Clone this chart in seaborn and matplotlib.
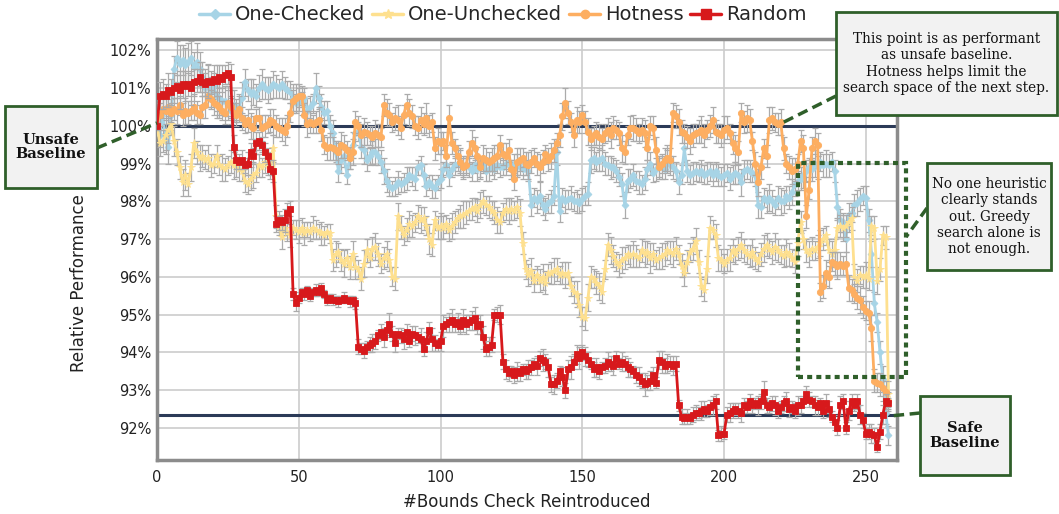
import numpy as np
import matplotlib.pyplot as plt
import seaborn as sns
from matplotlib.patches import Rectangle
from matplotlib.lines import Line2D
from matplotlib.ticker import PercentFormatter

# style
sns.set_theme(style="whitegrid")
plt.rcParams['font.family'] = ['DejaVu Sans']

# ---- data (relative performance in %, one point per reintroduced bounds check) ----
steps = list(range(259))

one_checked = [
    100.0, 99.75, 100.35, 99.6, 99.45, 100.3, 101.5, 101.8, 101.65, 101.75, 101.6,
    101.7, 101.8, 101.55, 101.7, 101.5, 101.3, 101.0, 101.15, 100.9, 101.05,
    100.8, 100.75, 100.65, 100.65, 100.6, 100.4, 100.55, 100.4, 100.5, 100.75,
    101.15, 100.95, 100.85, 100.9, 100.8, 101.0, 101.1, 101.0, 100.95, 101.0,
    101.1, 101.05, 101.0, 101.1, 101.0, 100.95, 100.9, 100.75, 100.6, 100.7,
    100.6, 100.75, 100.4, 100.5, 100.6, 101.0, 100.75, 100.5, 100.35, 100.4,
    100.0, 99.8, 99.3, 98.8, 99.1, 99.2, 98.7, 99.15, 99.5, 99.8,
    99.85, 99.45, 99.35, 99.1, 99.2, 99.3, 99.3, 99.2, 99.05, 98.8,
    98.55, 98.4, 98.35, 98.4, 98.5, 98.45, 98.5, 98.6, 98.7, 98.65,
    98.6, 98.9, 98.95, 98.7, 98.4, 98.5, 98.4, 98.35, 98.5, 98.6,
    98.85, 98.95, 98.7, 98.85, 98.95, 99.0, 99.05, 98.9, 98.95, 98.9,
    98.8, 98.95, 98.85, 98.9, 98.95, 98.8, 98.85, 98.9, 98.85, 98.95,
    98.9, 98.9, 99.0, 99.05, 98.9, 99.0, 98.95, 98.9, 98.85, 98.9,
    98.8, 97.9, 98.1, 98.0, 98.15, 97.9, 97.8, 97.95, 98.0, 98.15,
    99.3, 97.75, 98.1, 98.0, 98.05, 98.1, 98.0, 98.0, 97.95, 98.05,
    98.15, 98.2, 99.1, 99.15, 99.05, 99.1, 99.15, 99.0, 98.95, 98.9,
    98.9, 98.8, 98.65, 98.45, 97.9, 98.55, 98.6, 98.7, 98.55, 98.5,
    98.45, 98.6, 98.85, 99.0, 98.75, 98.85, 98.9, 98.9, 98.85, 99.05,
    98.95, 98.9, 98.8, 98.5, 98.7, 99.4, 98.8, 98.7, 98.75, 98.8,
    98.75, 98.8, 98.7, 98.75, 98.8, 98.7, 98.8, 98.7, 98.65, 98.7,
    98.75, 98.6, 98.7, 98.75, 98.7, 98.5, 98.8, 98.85, 98.8, 98.75,
    98.7, 97.9, 97.85, 98.1, 98.0, 98.1, 98.0, 97.9, 98.1, 98.0,
    98.0, 98.15, 98.1, 98.25, 98.45, 98.55, 98.6, 98.7, 98.8, 98.9,
    98.85, 99.0, 98.9, 99.05, 98.95, 99.0, 98.95, 99.05, 98.8, 97.85,
    97.5, 97.45, 97.0, 97.65, 97.7, 97.9, 97.95, 98.05, 98.15, 98.1,
    97.5, 96.6, 95.3, 94.8, 94.0, 93.3, 92.4, 91.8,
]

one_unchecked = [
    100.0, 99.55, 99.6, 99.75, 99.9, 100.05, 99.6, 99.3, 98.9, 98.5, 98.7,
    98.45, 98.9, 99.55, 99.3, 99.15, 99.2, 99.1, 99.15, 98.95, 99.0,
    99.2, 98.95, 98.9, 98.85, 98.95, 99.05, 98.95, 98.9, 98.85, 98.8,
    98.55, 98.45, 98.6, 98.7, 98.75, 98.95, 98.9, 99.05, 98.95, 99.0,
    99.4, 97.6, 97.35, 97.05, 97.3, 97.2, 97.1, 97.3, 97.25, 97.2,
    97.3, 97.15, 97.25, 97.2, 97.3, 97.25, 97.2, 97.15, 97.1, 97.2,
    97.15, 96.45, 96.6, 96.65, 96.45, 96.35, 96.5, 96.25, 96.6, 96.25,
    96.2, 95.95, 96.35, 96.7, 96.5, 96.75, 96.8, 96.6, 96.35, 96.5,
    96.6, 96.45, 96.0, 95.95, 97.6, 97.3, 97.1, 97.25, 97.4, 97.35,
    97.45, 97.6, 97.5, 97.55, 97.35, 97.0, 96.85, 97.5, 97.3, 97.35,
    97.3, 97.4, 97.25, 97.35, 97.45, 97.55, 97.6, 97.65, 97.7, 97.75,
    97.8, 97.85, 97.75, 97.9, 98.0, 97.9, 97.85, 97.75, 97.7, 97.5,
    97.45, 97.7, 97.8, 97.75, 97.8, 97.75, 97.85, 97.7, 96.9, 96.2,
    96.05, 96.15, 95.9, 96.05, 95.9, 96.0, 95.85, 96.1, 96.1, 96.15,
    96.2, 96.05, 96.1, 96.05, 96.1, 95.75, 95.6, 95.55, 95.25, 94.95,
    94.9, 95.45, 96.0, 95.95, 95.85, 95.75, 95.6, 96.2, 96.85, 96.7,
    96.55, 96.4, 96.3, 96.45, 96.5, 96.6, 96.55, 96.6, 96.55, 96.5,
    96.7, 96.6, 96.65, 96.5, 96.6, 96.45, 96.5, 96.55, 96.6, 96.7,
    96.65, 96.6, 96.75, 96.6, 96.3, 96.1, 96.4, 96.65, 96.75, 96.95,
    96.4, 95.75, 95.65, 96.2, 97.3, 97.25, 97.1, 96.5, 96.45, 96.35,
    96.45, 96.5, 96.7, 96.6, 96.75, 96.85, 96.7, 96.6, 96.55, 96.65,
    96.5, 96.4, 96.6, 96.75, 96.85, 96.75, 96.65, 96.8, 96.7, 96.6,
    96.55, 96.65, 96.6, 96.5, 96.4, 96.9, 97.45, 97.0, 96.7, 96.6,
    96.75, 96.7, 96.8, 96.9, 97.0, 97.1, 96.7, 96.6, 96.7, 97.3,
    97.35, 97.3, 97.35, 97.45, 97.55, 96.0, 95.9, 96.05, 96.0, 96.05,
    95.95, 97.35, 97.3, 95.9, 96.2, 97.1, 97.05, 92.9,
]

hotness = [
    100.0, 100.3, 100.45, 100.4, 100.5, 100.35, 100.45, 100.4, 100.55, 100.3, 100.4,
    100.35, 100.4, 100.5, 100.35, 100.3, 100.5, 100.55, 100.8, 100.7, 100.6,
    100.55, 100.5, 100.4, 100.35, 100.6, 100.5, 100.35, 100.3, 100.45, 100.2,
    100.05, 100.15, 100.0, 99.95, 100.2, 100.2, 99.95, 100.0, 100.05, 100.15,
    100.1, 100.0, 99.95, 99.9, 99.85, 100.0, 100.35, 100.65, 100.75, 100.8,
    100.8, 100.3, 100.05, 100.1, 100.05, 100.1, 100.15, 99.9, 99.5, 99.4,
    99.45, 99.4, 99.35, 99.3, 99.5, 99.45, 99.35, 99.15, 99.3, 100.1,
    100.0, 99.75, 99.85, 99.8, 99.75, 99.7, 99.8, 99.75, 99.7, 100.55,
    100.35, 100.3, 100.1, 100.2, 100.15, 99.95, 100.3, 100.55, 100.35, 100.25,
    100.0, 99.95, 100.15, 100.05, 100.2, 100.0, 100.1, 99.4, 99.6, 99.55,
    99.6, 99.2, 100.2, 99.55, 99.4, 99.2, 99.05, 98.9, 98.95, 99.3,
    99.55, 99.4, 99.2, 98.9, 99.15, 99.1, 99.05, 99.1, 99.15, 99.2,
    99.5, 99.25, 99.2, 99.35, 98.85, 98.6, 99.05, 99.1, 99.15, 99.0,
    98.95, 99.05, 99.15, 99.0, 98.9, 99.05, 99.25, 99.1, 99.2, 99.35,
    99.55, 99.75, 100.25, 100.6, 100.35, 100.1, 99.75, 100.15, 100.1, 100.3,
    100.1, 99.85, 99.65, 99.75, 99.8, 99.7, 99.65, 99.8, 99.9, 99.75,
    99.95, 99.9, 99.8, 99.4, 99.3, 99.75, 99.95, 99.95, 99.9, 99.8,
    99.9, 99.8, 99.4, 100.0, 99.95, 99.35, 98.9, 99.0, 99.1, 99.15,
    99.1, 100.35, 100.25, 100.1, 99.85, 99.8, 99.7, 99.6, 99.75, 99.8,
    99.85, 99.9, 99.75, 99.9, 100.0, 100.15, 99.85, 99.8, 99.75, 99.9,
    99.95, 99.8, 99.55, 99.4, 99.3, 100.35, 100.1, 100.2, 100.15, 99.6,
    99.0, 98.5, 98.9, 99.4, 99.2, 100.15, 100.2, 100.1, 100.05, 100.1,
    99.4, 99.0, 98.9, 98.8, 98.85, 99.0, 99.6, 99.4, 97.6, 98.3,
    99.4, 99.6, 99.5, 95.6, 95.75, 96.1, 96.0, 96.4, 96.35, 96.3,
    96.35, 96.3, 96.35, 95.7, 95.65, 95.55, 95.45, 95.4, 95.2, 95.1,
    95.05, 94.65, 93.25, 93.2, 93.15, 93.05, 92.95, 92.7,
]

random_order = [
    100.0, 100.8, 100.85, 100.8, 100.95, 100.9, 101.0, 101.05, 100.95, 101.1, 101.05,
    101.1, 101.0, 101.15, 101.2, 101.3, 101.15, 101.1, 101.2, 101.15, 101.25,
    101.2, 101.3, 101.25, 101.35, 101.4, 101.3, 99.45, 99.1, 99.05, 99.1,
    98.95, 99.0, 99.3, 99.2, 99.55, 99.6, 99.5, 99.3, 99.2, 98.85,
    98.8, 97.4, 97.5, 97.45, 97.5, 97.7, 97.8, 95.55, 95.3, 95.45,
    95.6, 95.55, 95.65, 95.5, 95.6, 95.65, 95.6, 95.7, 95.55, 95.4,
    95.45, 95.4, 95.4, 95.35, 95.4, 95.45, 95.4, 95.35, 95.4, 95.3,
    94.15, 94.1, 94.05, 94.15, 94.2, 94.25, 94.3, 94.45, 94.55, 94.4,
    94.6, 94.75, 94.5, 94.25, 94.5, 94.45, 94.35, 94.55, 94.3, 94.5,
    94.45, 94.4, 94.35, 94.1, 94.3, 94.6, 94.35, 94.25, 94.2, 94.3,
    94.7, 94.75, 94.8, 94.85, 94.75, 94.8, 94.7, 94.85, 94.75, 94.8,
    94.85, 94.9, 94.7, 94.75, 94.4, 94.1, 94.15, 94.2, 95.0, 95.0,
    95.0, 93.75, 93.55, 93.45, 93.5, 93.4, 93.5, 93.45, 93.55, 93.5,
    93.55, 93.6, 93.7, 93.65, 93.85, 93.8, 93.75, 93.6, 93.15, 93.15,
    93.25, 93.5, 93.35, 93.0, 93.55, 93.6, 93.75, 93.95, 93.85, 94.0,
    93.9, 93.8, 93.7, 93.55, 93.6, 93.5, 93.6, 93.65, 93.75, 93.7,
    93.65, 93.85, 93.7, 93.75, 93.7, 93.6, 93.55, 93.5, 93.4, 93.35,
    93.25, 93.15, 93.2, 93.25, 93.4, 93.2, 93.8, 93.75, 93.65, 93.7,
    93.7, 93.65, 93.7, 92.6, 92.3, 92.25, 92.3, 92.25, 92.35, 92.4,
    92.4, 92.45, 92.5, 92.45, 92.55, 92.6, 92.7, 91.8, 91.85, 91.85,
    92.35, 92.4, 92.45, 92.5, 92.45, 92.4, 92.6, 92.55, 92.7, 92.6,
    92.65, 92.6, 92.7, 92.95, 92.6, 92.55, 92.65, 92.6, 92.45, 92.55,
    92.65, 92.7, 92.5, 92.55, 92.45, 92.6, 92.6, 92.7, 92.9, 92.75,
    92.7, 92.6, 92.55, 92.65, 92.45, 92.65, 92.5, 92.3, 92.15, 92.0,
    92.6, 92.7, 92.0, 92.45, 92.7, 92.6, 92.7, 92.35, 92.2, 91.85,
    91.9, 91.85, 91.8, 91.5, 91.9, 92.35, 92.7, 92.65,
]

# error bar half-widths in hundredths of a percent
one_checked_err = [
    10, 30, 40, 35, 45, 40, 35, 45, 50, 40, 45,
    50, 45, 40, 50, 45, 40, 50, 45, 40, 35,
    40, 45, 35, 40, 45, 35, 40, 30, 35, 40,
    35, 30, 40, 35, 30, 35, 40, 30, 35, 30,
    35, 30, 25, 35, 30, 25, 30, 35, 25, 30,
    30, 25, 35, 30, 25, 40, 30, 35, 30, 25,
    30, 35, 25, 30, 35, 30, 25, 30, 35, 30,
    25, 30, 35, 30, 25, 30, 35, 25, 30, 35,
    30, 25, 20, 25, 30, 20, 25, 30, 20, 25,
    30, 20, 25, 30, 25, 20, 30, 25, 20, 25,
    20, 25, 30, 20, 25, 20, 30, 25, 20, 25,
    25, 20, 30, 25, 20, 25, 30, 20, 25, 20,
    25, 20, 30, 25, 20, 25, 30, 20, 25, 20,
    25, 30, 25, 30, 35, 25, 30, 25, 30, 25,
    35, 30, 25, 30, 25, 30, 25, 30, 25, 30,
    25, 30, 35, 30, 25, 30, 35, 30, 25, 30,
    25, 30, 25, 30, 35, 30, 25, 30, 25, 30,
    25, 30, 25, 30, 25, 30, 25, 30, 25, 30,
    25, 30, 25, 30, 25, 35, 30, 25, 30, 25,
    25, 30, 25, 30, 25, 30, 25, 30, 25, 30,
    25, 30, 25, 30, 25, 35, 30, 25, 30, 25,
    30, 35, 30, 25, 30, 35, 30, 25, 30, 35,
    30, 25, 30, 35, 30, 25, 30, 35, 30, 25,
    30, 35, 30, 25, 30, 35, 30, 25, 30, 35,
    30, 25, 35, 30, 25, 30, 35, 30, 25, 30,
    30, 35, 30, 25, 30, 35, 30, 25,
]

one_unchecked_err = [
    10, 35, 30, 40, 35, 30, 40, 35, 30, 35, 40,
    30, 35, 40, 30, 35, 30, 25, 35, 30, 25,
    30, 25, 35, 30, 25, 30, 35, 25, 30, 25,
    30, 25, 30, 35, 25, 30, 25, 30, 25, 30,
    35, 30, 25, 30, 20, 25, 30, 20, 25, 30,
    25, 30, 20, 25, 30, 25, 20, 30, 25, 20,
    25, 30, 35, 25, 30, 35, 25, 30, 35, 30,
    25, 30, 35, 30, 25, 30, 35, 30, 25, 30,
    35, 30, 25, 30, 35, 30, 25, 30, 35, 30,
    25, 30, 35, 30, 25, 40, 30, 25, 30, 35,
    30, 25, 30, 35, 30, 25, 30, 35, 30, 25,
    30, 25, 30, 35, 30, 25, 30, 25, 30, 35,
    30, 25, 30, 35, 30, 25, 30, 35, 30, 25,
    30, 35, 30, 25, 30, 35, 30, 25, 30, 35,
    30, 25, 30, 35, 30, 25, 30, 35, 30, 25,
    30, 35, 30, 25, 30, 35, 30, 25, 30, 35,
    30, 25, 30, 35, 30, 25, 30, 35, 30, 25,
    30, 35, 30, 40, 30, 25, 30, 35, 30, 25,
    30, 35, 30, 25, 30, 35, 30, 25, 30, 35,
    30, 25, 30, 35, 30, 25, 30, 35, 30, 25,
    30, 35, 30, 25, 30, 35, 30, 25, 30, 35,
    30, 25, 30, 35, 30, 25, 30, 35, 30, 25,
    30, 35, 30, 25, 30, 35, 30, 25, 30, 35,
    30, 25, 30, 35, 30, 25, 30, 35, 30, 25,
    30, 35, 30, 25, 30, 35, 30, 25, 30, 35,
    30, 25, 30, 35, 30, 25, 30, 35,
]

hotness_err = [
    10, 30, 25, 35, 30, 25, 30, 35, 25, 30, 35,
    30, 25, 35, 30, 25, 30, 35, 30, 25, 30,
    35, 30, 25, 30, 35, 30, 25, 30, 35, 30,
    25, 30, 35, 30, 25, 30, 35, 30, 25, 30,
    35, 30, 25, 30, 35, 30, 25, 30, 35, 30,
    25, 30, 35, 30, 25, 30, 35, 30, 25, 30,
    35, 30, 25, 30, 35, 30, 25, 30, 35, 30,
    25, 30, 35, 30, 25, 30, 35, 30, 25, 30,
    35, 30, 25, 30, 40, 30, 25, 30, 35, 30,
    25, 30, 35, 30, 40, 30, 25, 30, 35, 30,
    25, 30, 35, 30, 25, 30, 35, 30, 25, 30,
    35, 30, 25, 30, 35, 30, 25, 30, 35, 30,
    25, 30, 35, 30, 25, 30, 35, 30, 25, 30,
    35, 30, 25, 30, 35, 30, 25, 30, 35, 30,
    25, 30, 35, 40, 30, 25, 30, 35, 30, 25,
    30, 35, 30, 25, 30, 35, 30, 25, 30, 35,
    30, 25, 30, 35, 30, 25, 30, 35, 30, 25,
    30, 35, 30, 25, 30, 35, 30, 25, 30, 35,
    30, 25, 30, 35, 30, 25, 30, 35, 30, 25,
    30, 35, 30, 25, 30, 35, 30, 25, 30, 35,
    30, 25, 30, 35, 30, 25, 30, 35, 30, 25,
    30, 35, 30, 25, 30, 35, 30, 25, 30, 35,
    30, 25, 30, 35, 30, 25, 30, 35, 30, 25,
    30, 35, 30, 25, 30, 35, 30, 25, 30, 35,
    30, 25, 30, 35, 30, 25, 30, 35, 30, 25,
    30, 35, 30, 25, 30, 35, 30, 25,
]

random_err = [
    10, 35, 40, 30, 45, 35, 40, 30, 50, 35, 40,
    30, 45, 35, 30, 40, 35, 30, 45, 30, 35,
    40, 30, 35, 25, 30, 35, 30, 25, 20, 25,
    20, 30, 25, 20, 30, 25, 20, 25, 20, 25,
    30, 20, 25, 20, 30, 25, 20, 15, 20, 15,
    10, 15, 10, 15, 10, 15, 10, 15, 10, 15,
    10, 15, 10, 15, 10, 15, 10, 15, 10, 15,
    20, 15, 20, 15, 20, 25, 20, 15, 20, 25,
    20, 30, 20, 25, 15, 20, 25, 20, 15, 20,
    25, 15, 30, 20, 25, 20, 30, 20, 15, 25,
    30, 20, 25, 30, 20, 25, 20, 30, 25, 20,
    25, 30, 20, 25, 30, 20, 25, 20, 15, 20,
    25, 20, 25, 20, 15, 20, 25, 20, 15, 20,
    25, 20, 15, 25, 20, 30, 20, 25, 20, 25,
    20, 15, 25, 20, 25, 30, 20, 25, 30, 20,
    25, 20, 15, 20, 25, 20, 15, 20, 25, 20,
    25, 20, 15, 25, 20, 25, 20, 15, 20, 25,
    20, 30, 20, 25, 20, 15, 25, 30, 20, 25,
    20, 25, 20, 15, 20, 15, 20, 15, 20, 20,
    15, 25, 20, 15, 20, 25, 20, 15, 20, 15,
    20, 25, 20, 15, 20, 25, 20, 15, 20, 20,
    15, 25, 20, 30, 20, 15, 20, 25, 20, 15,
    20, 25, 20, 15, 20, 25, 20, 15, 20, 20,
    15, 25, 20, 15, 20, 25, 20, 15, 20, 20,
    25, 20, 15, 25, 20, 15, 20, 25, 20, 15,
    20, 25, 20, 15, 20, 25, 20, 15,
]

safe_baseline = 92.35
unsafe_baseline = 100.0

# ---- figure ----
W, H = 1059, 514
fig = plt.figure(figsize=(W / 100, H / 100), dpi=100)
ax = fig.add_axes([157 / W, 1 - 460 / H, (897 - 157) / W, (460 - 39) / H])


def fpx(x, y):
    # figure pixel (from top-left) -> figure fraction
    return x / W, 1 - y / H


series = [
    ("One-Checked", one_checked, one_checked_err, "#a7d4e6", "D", 3.5),
    ("One-Unchecked", one_unchecked, one_unchecked_err, "#fee08f", "*", 5.5),
    ("Hotness", hotness, hotness_err, "#fdae61", "o", 4.5),
    ("Random", random_order, random_err, "#d7191c", "s", 5),
]

ax.axhline(unsafe_baseline, color="#2b3a57", lw=2.2, zorder=2)
ax.axhline(safe_baseline, color="#2b3a57", lw=2.2, zorder=2)

handles = []
for i, (name, vals, err, color, marker, ms) in enumerate(series):
    z = 3 + i
    ax.errorbar(steps, vals, yerr=np.array(err) / 100, fmt="none", ecolor="#ababab",
                elinewidth=0.9, capsize=2, capthick=0.9, zorder=z)
    sns.lineplot(x=steps, y=vals, ax=ax, color=color, lw=2, marker=marker, markersize=ms,
                 markeredgecolor=color, markeredgewidth=0.6, zorder=z + 0.5, legend=False)
    handles.append(Line2D([], [], color=color, lw=2.5, marker=marker, markersize=ms + 1.5,
                          markeredgecolor=color, label=name))

ax.set_xlim(0, 261)
ax.set_ylim(91.15, 102.3)
ax.set_xticks([0, 50, 100, 150, 200, 250])
ax.set_yticks(range(92, 103))
ax.yaxis.set_major_formatter(PercentFormatter(xmax=100, decimals=0))
ax.tick_params(axis="both", length=0, labelsize=10.5, colors="#222222")
ax.tick_params(axis="x", pad=7)
ax.tick_params(axis="y", pad=4)
ax.grid(True, color="#cccccc", lw=1.2)
ax.set_facecolor("white")
for sp in ax.spines.values():
    sp.set_visible(True)
    sp.set_color("#8c8c8c")
    sp.set_linewidth(2.5)
ax.set_xlabel("#Bounds Check Reintroduced", fontsize=12, color="#222222", labelpad=6)
ax.set_ylabel("Relative Performance", fontsize=12, color="#222222")
ax.yaxis.set_label_coords((88 - 157) / 740, (460 - 283) / 421)

fig.legend(handles=handles, loc="center", bbox_to_anchor=fpx(503, 15), ncol=4,
           frameon=False, fontsize=14, handlelength=1.6, handletextpad=0.25,
           columnspacing=0.35)

# ---- annotations ----
green = "#2f5f2a"
box_face = "#f2f2f2"


def box(x0, y0, x1, y1, text, bold=False, size=10):
    fx0, fy1 = fpx(x0, y1)
    fx1, fy0 = fpx(x1, y0)
    fig.add_artist(Rectangle((fx0, fy1), fx1 - fx0, fy0 - fy1, transform=fig.transFigure,
                             facecolor=box_face, edgecolor=green, lw=2, zorder=10))
    cx, cy = fpx((x0 + x1) / 2, (y0 + y1) / 2)
    fig.text(cx, cy, text, ha="center", va="center", family="DejaVu Serif",
             fontsize=size, fontweight="bold" if bold else "normal",
             color="#111111", linespacing=1.2 if not bold else 1.05, zorder=11)


def connector(p0, p1):
    a = fpx(*p0)
    b = fpx(*p1)
    fig.add_artist(Line2D([a[0], b[0]], [a[1], b[1]], transform=fig.transFigure,
                          color=green, lw=2.5, ls=(0, (3, 1.6)), zorder=9))


# dotted region around the last steps
r0 = fpx(798, 377)
r1 = fpx(906, 163)
fig.add_artist(Rectangle(r0, r1[0] - r0[0], r1[1] - r0[1], transform=fig.transFigure,
                         fill=False, edgecolor=green, lw=3, ls=(0, (1.2, 1.0)), zorder=9))

connector((97, 148), (157, 123))
box(5, 106, 97, 188, "Unsafe\nBaseline", bold=True, size=10.5)

connector((836, 96), (782, 123))
box(836, 12, 1057, 115, "This point is as performant\nas unsafe baseline.\nHotness helps limit the\nsearch space of the next step.", size=9.8)

connector((927, 208), (906, 237))
box(927, 163, 1051, 270, "No one heuristic\nclearly stands\nout. Greedy\nsearch alone is\nnot enough.", size=9.8)

connector((920, 413), (890, 416))
box(920, 396, 1010, 475, "Safe\nBaseline", bold=True, size=10.5)

fig.savefig("out.png", dpi=100)
